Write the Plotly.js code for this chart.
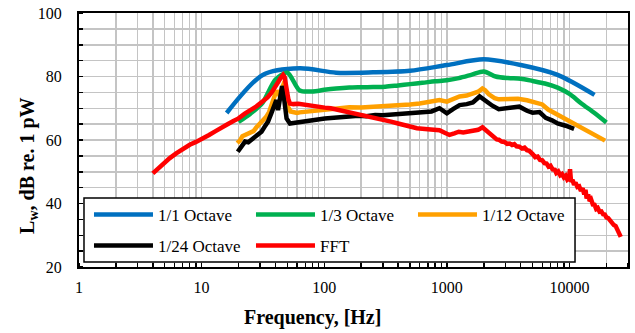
<!DOCTYPE html>
<html><head><meta charset="utf-8">
<script src="https://cdn.plot.ly/plotly-3.0.1.min.js"></script>
<style>html,body{margin:0;padding:0;background:#fff}#chart{width:635px;height:333px}</style>
</head><body><div id="chart"></div>
<script>
// ---- Data ----
const seriesNames = ['1/1 Octave', '1/3 Octave', '1/12 Octave', '1/24 Octave', 'FFT'];

const oct1_f = [16, 31.5, 63, 125, 250, 500, 1000, 2000, 4000, 8000, 16000];
const oct1_L = [68.5, 80.5, 82.6, 81.2, 81.3, 81.8, 83.6, 85.4, 83.6, 80.5, 74.2];

const oct3_f = [20, 25, 31.5, 40, 50, 63, 80, 100, 125, 160, 200, 250, 315, 400, 500, 630, 800, 1000, 1250, 1600, 2000, 2500, 3150, 4000, 5000, 6300, 8000, 10000, 12500, 16000, 20000];
const oct3_L = [65.7, 68.3, 71.8, 79.0, 81.2, 75.6, 75.3, 75.8, 76.2, 76.5, 76.6, 76.7, 76.8, 77.2, 77.6, 78.0, 78.5, 78.8, 79.5, 80.6, 81.6, 80.0, 79.5, 79.3, 78.6, 77.8, 76.5, 74.5, 71.5, 68.5, 65.5];

const oct12_f = [19.5, 20.5, 21.5, 22.5, 23.7, 25, 26.5, 28, 30, 31.5, 33.5, 35.5, 37.5, 39.5, 41, 42.5, 44.5, 46, 47.5, 49, 50.5, 53, 56, 60, 63, 67, 71, 75, 80, 90, 100, 115, 130, 160, 200, 250, 300, 400, 500, 600, 700, 870, 1000, 1100, 1270, 1450, 1630, 1800, 1950, 2050, 2200, 2450, 2650, 3000, 3400, 3800, 4500, 5300, 6000, 6700, 8000, 10000, 12000, 13700, 16000, 19500];
const oct12_L = [59.0, 59.8, 61.2, 61.5, 62.0, 62.4, 62.8, 64.0, 65.2, 66.0, 67.2, 68.8, 71.0, 74.0, 75.6, 74.5, 75.5, 77.5, 78.5, 75.0, 70.5, 69.0, 68.8, 68.5, 68.7, 68.8, 69.0, 69.2, 69.0, 69.3, 69.6, 69.8, 70.0, 70.3, 70.2, 70.4, 70.5, 70.9, 71.2, 71.5, 72.0, 72.6, 72.1, 72.6, 73.7, 74.0, 74.5, 75.2, 76.2, 75.7, 74.4, 73.2, 72.8, 72.9, 73.2, 73.0, 72.5, 71.8, 71.2, 69.6, 68.0, 65.8, 64.2, 63.1, 61.8, 59.8];

const oct24_f = [19.7, 21, 22.6, 24, 25.6, 27.2, 28.9, 30.8, 32.7, 34.8, 37, 39.4, 40.7, 42, 43.2, 44.3, 45.3, 46.2, 47.2, 49.3, 52.5, 57.5, 65, 74, 84, 101, 120, 140, 160, 190, 220, 260, 300, 350, 400, 480, 570, 650, 750, 870, 1000, 1130, 1270, 1450, 1630, 1850, 2100, 2350, 2650, 3000, 3400, 3900, 4500, 5000, 5700, 6400, 7200, 8000, 9300, 10900];
const oct24_L = [56.3, 57.7, 59.5, 59.3, 60.2, 61.0, 61.6, 62.6, 64.2, 65.8, 68.4, 71.5, 72.6, 69.4, 72.0, 75.2, 77.0, 75.5, 72.6, 66.8, 65.2, 65.4, 65.8, 66.3, 66.5, 66.8, 67.0, 67.3, 67.3, 67.6, 67.5, 67.9, 67.8, 68.0, 68.2, 68.3, 68.4, 68.6, 69.0, 70.0, 68.4, 69.8, 71.0, 71.3, 71.8, 73.7, 72.1, 70.8, 69.7, 70.0, 70.3, 70.5, 69.2, 68.6, 68.8, 67.0, 66.2, 65.2, 64.5, 63.5];

const fftLo_f = [4, 4.5, 5, 5.5, 6.2, 7, 8, 9, 10, 11.5, 13, 14.5, 16, 18, 20, 22.5, 25, 28, 31, 34.5, 37, 39.5, 42, 44, 46.2, 47.5, 49.3, 51, 52.5, 56, 61.5, 70, 79, 90, 101, 113, 130, 160, 200, 250, 300, 350, 400, 470, 570, 700, 870, 960, 1050, 1150, 1250, 1360, 1500, 1650, 1800, 1950, 2050, 2150];
const fftLo_L = [49.5, 51.3, 53.0, 54.3, 55.8, 57.2, 58.5, 59.4, 60.2, 61.6, 62.8, 63.7, 64.8, 65.9, 66.8, 68.3, 69.3, 70.6, 72.0, 73.4, 74.8, 76.3, 78.2, 79.5, 80.5, 79.8, 75.7, 72.8, 71.5, 71.3, 71.4, 71.0, 70.6, 70.5, 70.2, 70.0, 69.5, 68.9, 68.0, 67.2, 66.5, 65.8, 65.2, 64.4, 63.7, 63.4, 63.1, 62.3, 61.6, 62.1, 62.6, 62.4, 62.7, 63.0, 63.2, 64.0, 63.3, 62.4];
const fftHi_f = [2250, 2350, 2450, 2550, 2650, 2800, 2950, 3100, 3250, 3400, 3550, 3700, 3900, 4100, 4300, 4500, 4700, 4900, 5050, 5250, 5500, 5750, 6000, 6250, 6500, 6750, 7000, 7300, 7600, 7800, 8100, 8400, 8700, 9000, 9300, 9600, 9900, 10100, 10300, 10600, 10900, 11200, 11600, 12000, 12400, 12800, 13200, 13500, 13800, 14200, 14600, 15000, 15500, 16000, 16500, 17000, 17600, 18200, 18800, 19400, 20000, 20700, 21400, 22200, 23000, 23800, 24600, 25400, 26200];
const fftHi_L = [61.8, 61.2, 60.9, 60.2, 60.1, 59.5, 59.4, 58.8, 58.9, 58.4, 58.7, 58.0, 57.9, 57.3, 57.6, 56.8, 56.6, 55.6, 55.4, 54.6, 54.8, 53.7, 53.6, 52.7, 52.6, 51.6, 51.9, 50.7, 50.6, 49.6, 50.1, 48.9, 49.3, 48.2, 48.7, 47.5, 47.9, 50.8, 46.8, 47.4, 45.9, 46.6, 45.2, 45.4, 44.0, 44.8, 42.9, 44.3, 41.6, 42.8, 40.8, 41.3, 39.7, 39.6, 38.3, 38.6, 37.4, 37.5, 36.6, 36.5, 35.6, 35.4, 34.5, 34.1, 33.2, 32.9, 31.8, 30.8, 29.5];

const xTickVals = [1, 10, 100, 1000, 10000];
const xTickText = ['1', '10', '100', '1000', '10000'];
const yTickVals = [20, 40, 60, 80, 100];
const yTickText = ['20', '40', '60', '80', '100'];

// ---- Styles ----
const colors = ['#0070C0', '#00B050', '#FFA000', '#000000', '#FF0000'];
const FONT = 'Liberation Serif, Times New Roman, serif';
const LW = 4.5;

const traces = [
  {x: oct1_f, y: oct1_L, shape: 'spline', legend: 'legend'},
  {x: oct3_f, y: oct3_L, shape: 'spline', legend: 'legend'},
  {x: oct12_f, y: oct12_L, shape: 'linear', legend: 'legend'},
  {x: oct24_f, y: oct24_L, shape: 'linear', legend: 'legend2'},
  {x: fftLo_f.concat(fftHi_f), y: fftLo_L.concat(fftHi_L), shape: 'linear', legend: 'legend2'}
].map((t, i) => ({
  type: 'scatter', mode: 'lines', name: seriesNames[i],
  x: t.x, y: t.y, legend: t.legend,
  line: {color: colors[i], width: LW, shape: t.shape, smoothing: 0.8}
}));

const legendCommon = {
  orientation: 'h', bgcolor: 'rgba(0,0,0,0)', borderwidth: 0,
  font: {family: FONT, size: 17, color: '#000'},
  entrywidth: 88, entrywidthmode: 'pixels', itemwidth: 59,
  xanchor: 'left', yanchor: 'middle', traceorder: 'normal'
};

const gridCol = '#c4c4c4';
const layout = {
  width: 635, height: 333,
  margin: {l: 79, r: 7, t: 13, b: 66},
  paper_bgcolor: '#fff', plot_bgcolor: '#fff',
  font: {family: FONT, size: 16, color: '#000'},
  showlegend: true,
  xaxis: {
    type: 'log', range: [0, Math.log10(30000)],
    tickmode: 'array', tickvals: xTickVals, ticktext: xTickText,
    ticks: '', ticklabelstandoff: 5,
    showgrid: true, gridcolor: gridCol, gridwidth: 1.5,
    minor: {dtick: 'D1', showgrid: true, gridcolor: gridCol, gridwidth: 1.5, ticks: 'inside', ticklen: 4, tickcolor: '#000', tickwidth: 1.5},
    showline: true, linecolor: '#000', linewidth: 2, mirror: true,
    zeroline: false, tickfont: {family: FONT, size: 16, color: '#000'}
  },
  yaxis: {
    range: [20, 100],
    tickmode: 'array', tickvals: yTickVals, ticktext: yTickText,
    ticks: '', ticklabelstandoff: 12,
    showgrid: true, gridcolor: gridCol, gridwidth: 1.5,
    minor: {dtick: 5, showgrid: true, gridcolor: gridCol, gridwidth: 1.5, ticks: 'inside', ticklen: 4, tickcolor: '#000', tickwidth: 1.5},
    showline: true, linecolor: '#000', linewidth: 2, mirror: true,
    zeroline: false, tickfont: {family: FONT, size: 16, color: '#000'}
  },
  legend: Object.assign({}, legendCommon, {x: 0.0182, y: 0.2047}),
  legend2: Object.assign({}, legendCommon, {x: 0.0182, y: 0.0827}),
  shapes: [{
    type: 'rect', xref: 'paper', yref: 'paper', layer: 'above',
    x0: 0.0091, x1: 0.9035, y0: 0.0197, y1: 0.2717,
    fillcolor: '#fff', line: {color: '#000', width: 1.5}
  }],
  annotations: [
    {text: '<b>Frequency, [Hz]</b>', xref: 'paper', yref: 'paper', x: 0.426, y: -0.197,
     xanchor: 'center', yanchor: 'middle', showarrow: false, font: {family: FONT, size: 20, color: '#000'}},
    {text: '<b>L<sub>w</sub>, dB re. 1 pW</b>', xref: 'paper', yref: 'paper', x: -0.092, y: 0.40,
     xanchor: 'center', yanchor: 'middle', textangle: -90, showarrow: false, font: {family: FONT, size: 20, color: '#000'}}
  ]
};

Plotly.newPlot('chart', traces, layout, {displayModeBar: false, staticPlot: true});
</script>
</body></html>
